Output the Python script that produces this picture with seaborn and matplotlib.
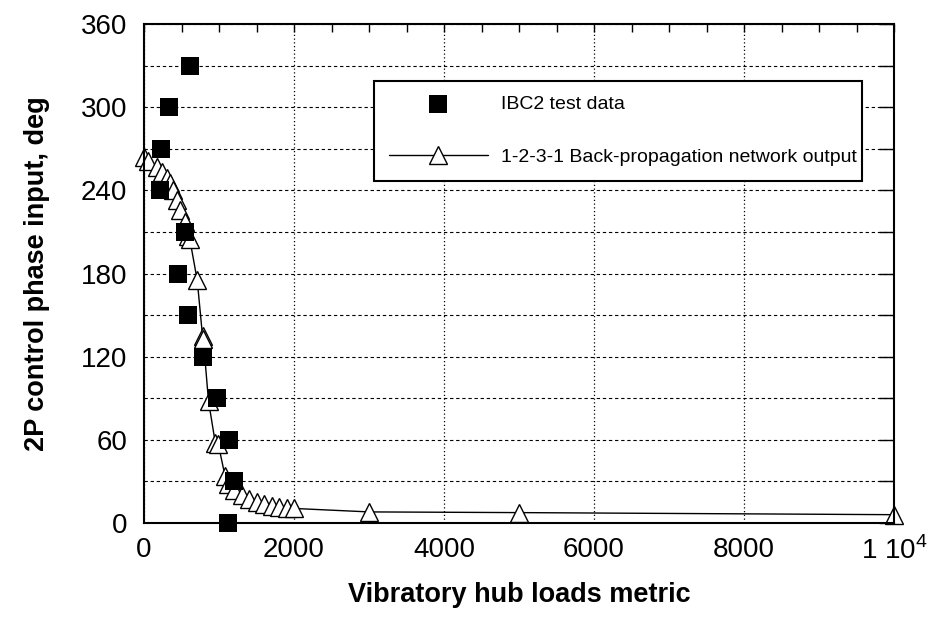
import matplotlib
matplotlib.use("Agg")
import matplotlib.pyplot as plt
from matplotlib.ticker import MultipleLocator, FixedLocator, FixedFormatter
import seaborn as sns
import pandas as pd

# ---- data ----
test_load = [1120, 1200, 1133, 973, 787, 587, 453, 547, 213, 227, 333, 613]
test_phase = [0, 30, 60, 90, 120, 150, 180, 210, 240, 270, 300, 330]

net_load = [0, 50, 170, 240, 300, 350, 390, 440, 480, 550, 590, 610, 710, 780,
            790, 860, 950, 990, 1080, 1120, 1200, 1300, 1400, 1500, 1600, 1700,
            1800, 1900, 2000, 3000, 5000, 10000]
net_phase = [264, 261, 257, 253, 249, 245, 240, 233, 226, 217, 207, 205, 175, 135,
             133, 88, 58, 57, 34, 28, 24, 20, 17, 15, 13.5, 12.5,
             11.5, 11, 10.5, 8, 7.5, 6]

x_ticks = [0, 2000, 4000, 6000, 8000, 10000]
x_tick_labels = ["0", "2000", "4000", "6000", "8000", "1 10$^4$"]
y_ticks = [0, 60, 120, 180, 240, 300, 360]
y_tick_labels = ["0", "60", "120", "180", "240", "300", "360"]

label_test = "IBC2 test data"
label_net = "1-2-3-1 Back-propagation network output"
x_label = "Vibratory hub loads metric"
y_label = "2P control phase input, deg"

df_test = pd.DataFrame({"load": test_load, "phase": test_phase})
df_net = pd.DataFrame({"load": net_load, "phase": net_phase})

sns.set_theme(style="white")
plt.rcParams["font.family"] = ["Liberation Sans", "DejaVu Sans"]
plt.rcParams["mathtext.fontset"] = "custom"
plt.rcParams["mathtext.rm"] = "Liberation Sans"
for k in ["text.color", "axes.labelcolor", "xtick.color", "ytick.color",
          "axes.edgecolor"]:
    plt.rcParams[k] = "black"

fig = plt.figure(figsize=(9.37, 6.25), dpi=100)
ax = fig.add_axes([144 / 937, 1 - 523 / 625, 750 / 937, 499 / 625])

sns.lineplot(data=df_net, x="load", y="phase", sort=False, ax=ax,
             color="black", linewidth=1.0, marker="^", markersize=12.5,
             markerfacecolor="white", markeredgecolor="black",
             markeredgewidth=1.0, label=label_net, zorder=2, clip_on=False)
sns.scatterplot(data=df_test, x="load", y="phase", ax=ax, marker="s",
                s=155, color="black", edgecolor="black", linewidth=0,
                label=label_test, zorder=3, clip_on=False)

ax.set_xlim(0, 10000)
ax.set_ylim(0, 360)

ax.xaxis.set_major_locator(FixedLocator(x_ticks))
ax.xaxis.set_major_formatter(FixedFormatter(x_tick_labels))
ax.xaxis.set_minor_locator(MultipleLocator(500))
ax.yaxis.set_major_locator(FixedLocator(y_ticks))
ax.yaxis.set_major_formatter(FixedFormatter(y_tick_labels))
ax.yaxis.set_minor_locator(MultipleLocator(30))

ax.tick_params(axis="both", which="both", direction="in", top=True, right=True,
               color="black", width=1.0, labelcolor="black")
ax.tick_params(axis="y", which="both", length=11, labelsize=20, pad=12)
ax.tick_params(axis="x", which="both", length=6, labelsize=20, pad=10)

ax.yaxis.grid(True, which="both", color="black", linestyle=(0, (3, 2.5)),
              linewidth=0.8)
ax.xaxis.grid(True, which="major", color="black", linestyle=(0, (1, 2)),
              linewidth=0.9)

for sp in ax.spines.values():
    sp.set_color("black")
    sp.set_linewidth(1.5)
    sp.set_visible(True)

ax.set_xlabel(x_label, fontsize=19.5, fontweight="bold", labelpad=12,
              color="black")
ax.set_ylabel(y_label, fontsize=19.5, fontweight="bold", labelpad=22,
              color="black")

handles, labels = ax.get_legend_handles_labels()
order = [labels.index(label_test), labels.index(label_net)]
leg = ax.legend([handles[i] for i in order], [labels[i] for i in order],
                loc="upper left", bbox_to_anchor=(0.3067, 0.687, 0.65, 0.1985),
                mode="expand", fontsize=14, handlelength=5.1, handletextpad=0.7,
                labelspacing=1.8, borderpad=0.75, fancybox=False, framealpha=1,
                edgecolor="black", borderaxespad=0)
leg.get_frame().set_linewidth(1.5)
for t in leg.get_texts():
    t.set_color("black")

fig.savefig("out.png", dpi=100)
